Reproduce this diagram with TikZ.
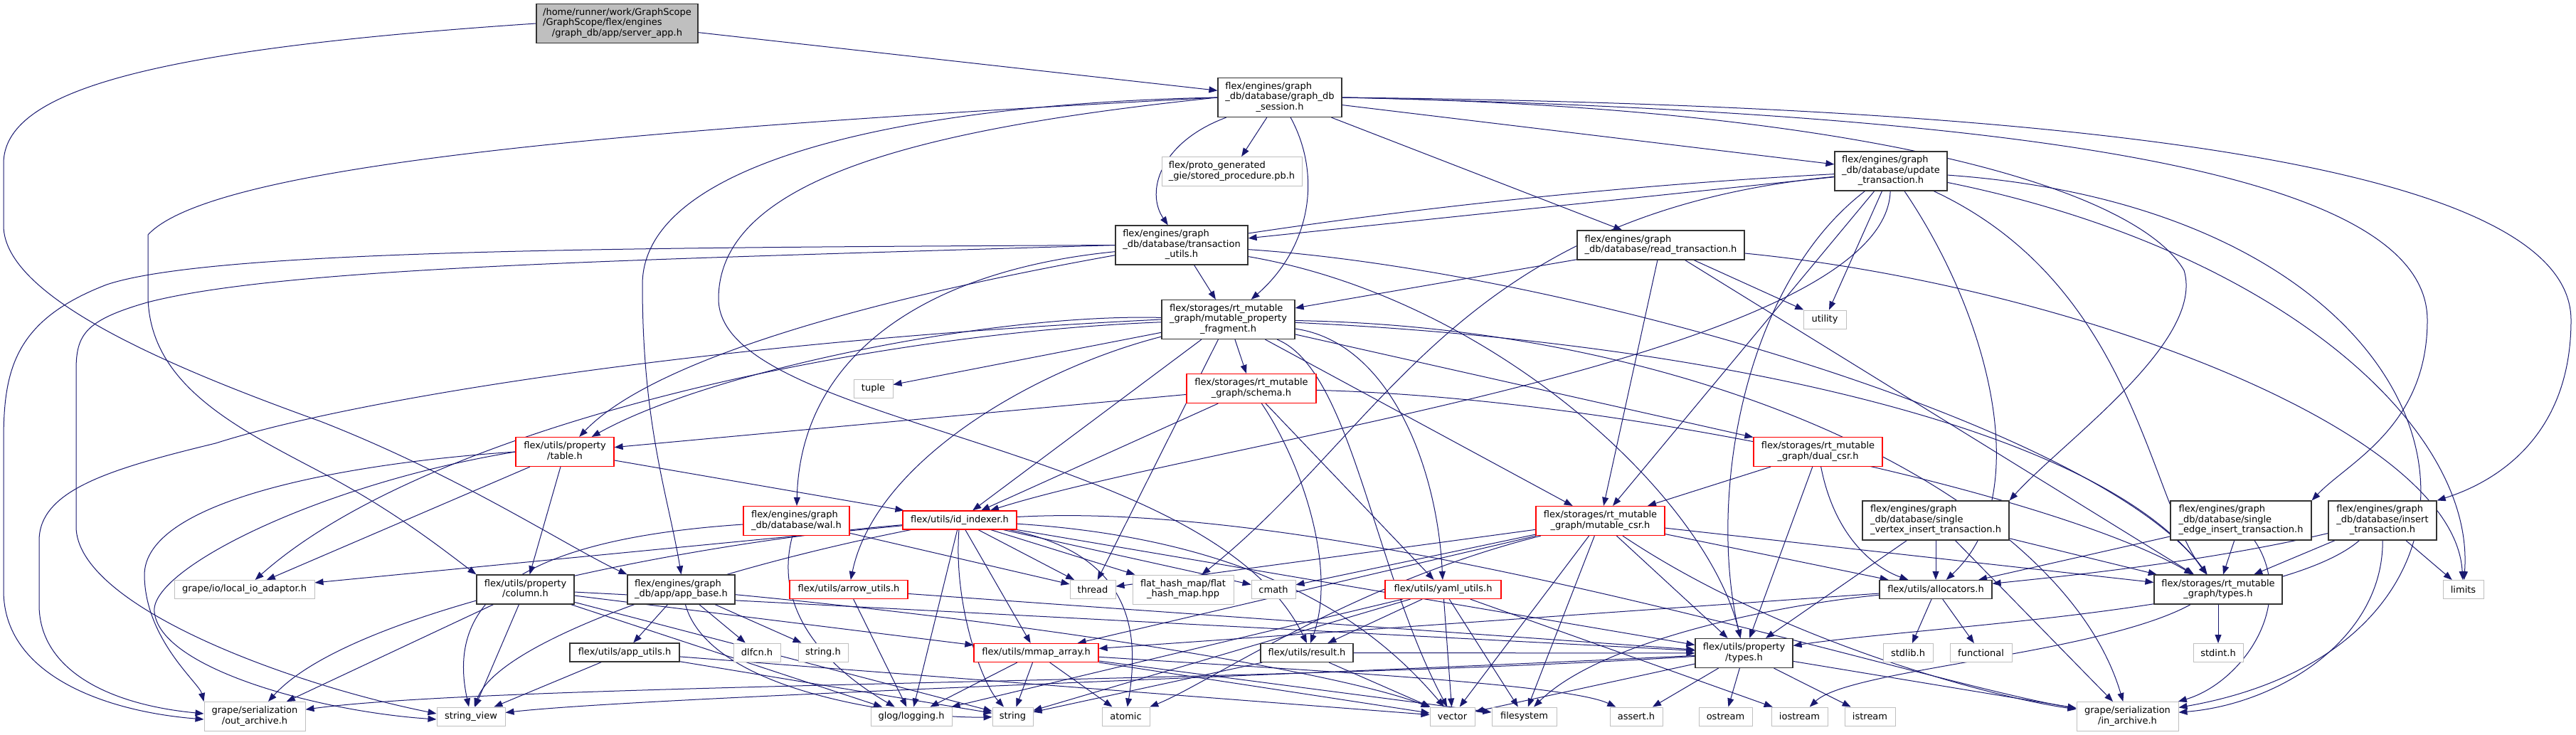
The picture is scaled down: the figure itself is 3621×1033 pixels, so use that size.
\documentclass[tikz,border=0pt]{standalone}
\usepackage{fontspec}
\setmainfont{DejaVu Sans}
\usetikzlibrary{arrows.meta}
\pgfdeclarelayer{bg}
\pgfsetlayers{bg,main}
\definecolor{edgeblue}{HTML}{191970}
\definecolor{sysgray}{HTML}{BFBFBF}
\newcommand{\dxfont}{\fontsize{13}{14.5}\selectfont}
% left-aligned lines, last one centred
\newcommand{\twol}[2]{\begin{tabular}{@{}l@{}}#1\\\multicolumn{1}{@{}c@{}}{#2}\end{tabular}}
\newcommand{\threel}[3]{\begin{tabular}{@{}l@{}}#1\\#2\\\multicolumn{1}{@{}c@{}}{#3}\end{tabular}}

\begin{document}
\begin{tikzpicture}[
  x=1pt, y=-1pt,
  hfile/.style={draw=black!80, fill=white, line width=1.2pt, inner sep=0pt, font=\dxfont},
  redfile/.style={hfile, draw=red},
  sysfile/.style={hfile, draw=sysgray, line width=1pt},
  srcfile/.style={hfile, fill=sysgray},
  one/.style={minimum height=26},
  two/.style={minimum height=41},
  three/.style={minimum height=55},
  dep/.style={color=edgeblue, line width=1pt, -{Triangle[length=12pt,width=9pt]}}
]
\useasboundingbox (0,0) rectangle (3621,1033);

% --- Top rows ---
\node[srcfile, three, minimum width=227] (root) at (867.5,33) {\threel{/home/runner/work/GraphScope}{/GraphScope/flex/engines}{/graph\_db/app/server\_app.h}};
\node[hfile, three, minimum width=174] (sess) at (1799,137) {\threel{flex/engines/graph}{\_db/database/graph\_db}{\_session.h}};
\node[sysfile, two, minimum width=197] (sproc) at (1731.5,241) {\twol{flex/proto\_generated}{\_gie/stored\_procedure.pb.h}};
\node[hfile, three, minimum width=158] (utxn) at (2658,240.5) {\threel{flex/engines/graph}{\_db/database/update}{\_transaction.h}};
\node[hfile, three, minimum width=186] (tutil) at (1661,344.5) {\threel{flex/engines/graph}{\_db/database/transaction}{\_utils.h}};
\node[hfile, two, minimum width=235] (rtxn) at (2334.5,344.5) {\twol{flex/engines/graph}{\_db/database/read\_transaction.h}};
\node[hfile, three, minimum width=187] (mpf) at (1726.5,449) {\threel{flex/storages/rt\_mutable}{\_graph/mutable\_property}{\_fragment.h}};
\node[sysfile, one, minimum width=60] (utility) at (2565,449) {utility};
\node[sysfile, one, minimum width=55] (tuple) at (1227.5,546) {tuple};
\node[redfile, two, minimum width=182] (schema) at (1759,546) {\twol{flex/storages/rt\_mutable}{\_graph/schema.h}};
\node[redfile, two, minimum width=138] (table) at (794,635) {\twol{flex/utils/property}{/table.h}};
\node[redfile, two, minimum width=181] (dualcsr) at (2555.5,635) {\twol{flex/storages/rt\_mutable}{\_graph/dual\_csr.h}};

% --- Middle rows ---
\node[redfile, two, minimum width=149] (wal) at (1119.5,732) {\twol{flex/engines/graph}{\_db/database/wal.h}};
\node[redfile, one, minimum width=160] (idx) at (1349,731) {flex/utils/id\_indexer.h};
\node[redfile, two, minimum width=181] (mcsr) at (2249.5,732) {\twol{flex/storages/rt\_mutable}{\_graph/mutable\_csr.h}};
\node[hfile, three, minimum width=206] (svins) at (2721,731.5) {\threel{flex/engines/graph}{\_db/database/single}{\_vertex\_insert\_transaction.h}};
\node[hfile, three, minimum width=198] (seins) at (3150,731.5) {\threel{flex/engines/graph}{\_db/database/single}{\_edge\_insert\_transaction.h}};
\node[hfile, three, minimum width=152] (itxn) at (3349,731.5) {\threel{flex/engines/graph}{\_db/database/insert}{\_transaction.h}};
\node[sysfile, one, minimum width=197] (ioad) at (343.5,828.5) {grape/io/local\_io\_adaptor.h};
\node[hfile, two, minimum width=137] (column) at (738.5,828.5) {\twol{flex/utils/property}{/column.h}};
\node[hfile, two, minimum width=151] (appbase) at (957.5,828.5) {\twol{flex/engines/graph}{\_db/app/app\_base.h}};
\node[redfile, one, minimum width=166] (arrow) at (1193,828.5) {flex/utils/arrow\_utils.h};
\node[sysfile, one, minimum width=64] (thread) at (1536,828.5) {thread};
\node[sysfile, two, minimum width=142] (fhm) at (1663,828.5) {\twol{flat\_hash\_map/flat}{\_hash\_map.hpp}};
\node[sysfile, one, minimum width=62] (cmath) at (1790,828.5) {cmath};
\node[redfile, one, minimum width=163] (yaml) at (2028.5,828.5) {flex/utils/yaml\_utils.h};
\node[hfile, one, minimum width=158] (alloc) at (2721,828.5) {flex/utils/allocators.h};
\node[hfile, two, minimum width=180] (rtypes) at (3118,828.5) {\twol{flex/storages/rt\_mutable}{\_graph/types.h}};
\node[sysfile, one, minimum width=57] (limits) at (3462.5,828.5) {limits};
\node[hfile, one, minimum width=154] (apputils) at (878,917) {flex/utils/app\_utils.h};
\node[sysfile, one, minimum width=66] (dlfcn) at (1064,917) {dlfcn.h};
\node[sysfile, one, minimum width=70] (stringh) at (1157,917) {string.h};
\node[redfile, one, minimum width=175] (mmap) at (1456.5,917.5) {flex/utils/mmap\_array.h};
\node[hfile, one, minimum width=130] (result) at (1837,917.5) {flex/utils/result.h};
\node[hfile, two, minimum width=137] (ptypes) at (2451.5,918) {\twol{flex/utils/property}{/types.h}};
\node[sysfile, one, minimum width=70] (stdlib) at (2682,917.5) {stdlib.h};
\node[sysfile, one, minimum width=87] (functional) at (2784.5,917.5) {functional};
\node[sysfile, one, minimum width=70] (stdint) at (3118,917.5) {stdint.h};

% --- Bottom row ---
\node[sysfile, two, minimum width=142] (oarch) at (358,1007) {\twol{grape/serialization}{/out\_archive.h}};
\node[sysfile, one, minimum width=96] (sview) at (662,1007) {string\_view};
\node[sysfile, one, minimum width=114] (glog) at (1281,1007) {glog/logging.h};
\node[sysfile, one, minimum width=57] (string) at (1423.5,1007) {string};
\node[sysfile, one, minimum width=67] (atomic) at (1582.5,1007) {atomic};
\node[sysfile, one, minimum width=63] (vector) at (2041.5,1007) {vector};
\node[sysfile, one, minimum width=91] (fsys) at (2142.5,1007) {filesystem};
\node[sysfile, one, minimum width=74] (asrt) at (2300,1007) {assert.h};
\node[sysfile, one, minimum width=75] (ostream) at (2425.5,1007) {ostream};
\node[sysfile, one, minimum width=79] (iostream) at (2529.5,1007) {iostream};
\node[sysfile, one, minimum width=71] (istream) at (2628.5,1007) {istream};
\node[sysfile, two, minimum width=143] (iarch) at (2990.5,1007) {\twol{grape/serialization}{/in\_archive.h}};

\begin{pgfonlayer}{bg}
\fill[white] (0,0) rectangle (3621,1033);

% --- server_app.h ---
\draw[dep] (root) -- (sess);
\draw[dep] (root.west) .. controls (200,70) and (5,130) .. (5,230) -- (5,317) .. controls (5,420) and (250,520) .. (450,592) .. controls (650,670) and (800,770) .. (appbase.north west);

% --- graph_db_session.h ---
\path[dep] (sess) edge (sproc) edge (rtxn) edge (utxn);
\draw[dep] (sess) .. controls (1630,200) and (1610,270) .. (tutil);
\draw[dep] (sess) .. controls (1860,250) and (1840,350) .. (mpf);
\draw[dep] (sess.east) .. controls (2600,150) and (3000,260) .. (3070,380) .. controls (3100,480) and (2900,620) .. (svins.north east);
\draw[dep] (sess.east) .. controls (2900,160) and (3412,250) .. (3412,450) .. controls (3412,600) and (3300,650) .. (seins.north east);
\draw[dep] (sess.east) .. controls (3100,150) and (3614,260) .. (3614,450) .. controls (3614,620) and (3500,680) .. (itxn.north east);
\draw[dep] (sess.west) .. controls (1300,145) and (903,220) .. (903,400) .. controls (903,600) and (940,700) .. (appbase.north);
\draw[dep] (sess.west) .. controls (900,180) and (300,230) .. (208,330) -- (208,417) .. controls (210,540) and (330,600) .. (450,663) .. controls (550,715) and (620,770) .. (column.north west);
\draw[dep] (sess.west) .. controls (1300,180) and (1010,250) .. (1010,420) .. controls (1010,600) and (1700,620) .. (result.north);

% --- transaction_utils.h ---
\path[dep] (tutil) edge (mpf);
\draw[dep] (tutil) .. controls (1300,380) and (1125,500) .. (wal);
\draw[dep] (tutil.west) .. controls (900,348) and (300,350) .. (150,400) .. controls (20,450) and (5,520) .. (5,620) -- (5,830) .. controls (5,950) and (150,1000) .. ([yshift=-4pt]oarch.west);
\draw[dep] (tutil.west) .. controls (900,365) and (400,375) .. (207,425) .. controls (120,450) and (107,470) .. (107,520) -- (107,740) .. controls (107,850) and (400,960) .. ([yshift=4pt]sview.west);
\draw[dep] (tutil) .. controls (2200,380) and (2950,600) .. (rtypes);
\draw[dep] (tutil) .. controls (2100,420) and (2400,700) .. (ptypes);

% --- read_transaction.h ---
\path[dep] (rtxn) edge (mpf) edge (mcsr) edge (utility) edge (rtypes);
\draw[dep] (rtxn) .. controls (2900,400) and (3450,600) .. (limits);

% --- update_transaction.h ---
\path[dep] (utxn) edge (tutil) edge (utility) edge (mcsr);
\draw[dep] (utxn) .. controls (1900,280) and (1000,420) .. (table);
\draw[dep] (utxn) .. controls (2050,300) and (1950,600) .. (fhm);
\draw[dep] (utxn) .. controls (2650,500) and (1700,620) .. (idx);
\draw[dep] (utxn) .. controls (2800,450) and (2860,700) .. (alloc);
\draw[dep] (utxn) .. controls (2450,400) and (2400,700) .. (ptypes);
\draw[dep] (utxn) .. controls (3000,400) and (3020,700) .. (rtypes);
\draw[dep] (utxn) .. controls (3200,350) and (3480,600) .. (limits);
\draw[dep] (utxn) .. controls (3500,300) and (3600,900) .. (iarch);

% --- mutable_property_fragment.h ---
\path[dep] (mpf) edge (tuple) edge (schema) edge (dualcsr) edge (mcsr) edge (idx) edge (thread);
\draw[dep] (mpf) .. controls (2400,480) and (2950,600) .. (rtypes);
\draw[dep] (mpf) .. controls (1450,520) and (1230,650) .. (arrow);
\draw[dep] (mpf) .. controls (1400,440) and (1000,520) .. (table);
\draw[dep] (mpf) .. controls (1200,470) and (600,600) .. (ioad);
\draw[dep] (mpf.west) .. controls (1000,480) and (500,560) .. (303,623) .. controls (150,660) and (55,690) .. (55,760) -- (55,850) .. controls (55,940) and (150,990) .. ([yshift=4pt]oarch.west);
\draw[dep] (mpf) .. controls (2400,460) and (2900,700) .. (iarch);
\draw[dep] (mpf) .. controls (1900,520) and (1930,800) .. (vector);
\draw[dep] (mpf) .. controls (1950,480) and (2020,650) .. (yaml);

% --- schema.h, dual_csr.h ---
\path[dep] (schema) edge (table) edge (idx) edge (yaml);
\draw[dep] (schema) .. controls (1830,650) and (1880,800) .. (result);
\draw[dep] (schema) .. controls (2300,560) and (2900,700) .. (rtypes);
\path[dep] (dualcsr) edge (mcsr) edge (ptypes);
\draw[dep] (dualcsr) .. controls (2580,760) and (2640,800) .. (alloc);

% --- table.h, wal.h, column.h ---
\path[dep] (table) edge (column) edge (idx) edge (ioad);
\draw[dep] (table.west) .. controls (500,650) and (200,700) .. (203,810) .. controls (205,900) and (280,960) .. (oarch.north west);
\draw[dep] (table.west) .. controls (450,680) and (210,800) .. (217,860) .. controls (225,940) and (450,1000) .. ([yshift=-4pt]sview.west);
\path[dep] (wal) edge (thread);
\draw[dep] (wal) .. controls (1080,880) and (1200,960) .. (glog);
\draw[dep] (wal) .. controls (700,760) and (630,860) .. (sview);
\path[dep] (column) edge (oarch) edge (sview) edge (mmap) edge (ptypes) edge (glog) edge (string);

% --- app_base.h, app_utils.h, arrow_utils.h ---
\path[dep] (appbase) edge (apputils) edge (dlfcn) edge (stringh);
\draw[dep] (appbase) .. controls (1000,980) and (1300,1010) .. (string);
\draw[dep] (appbase) .. controls (1500,880) and (1900,950) .. (vector);
\path[dep] (apputils) edge (sview) edge (string) edge (vector);
\path[dep] (arrow) edge (glog) edge (ptypes);

% --- id_indexer.h ---
\path[dep] (idx) edge (ioad) edge (thread) edge (fhm) edge (cmath) edge (mmap) edge (glog) edge (ptypes);
\draw[dep] (idx) .. controls (1000,760) and (500,850) .. (oarch);
\draw[dep] (idx) .. controls (1000,800) and (700,900) .. (sview);
\draw[dep] (idx) .. controls (1600,780) and (1600,900) .. (atomic);
\draw[dep] (idx) .. controls (1340,850) and (1380,960) .. (string);
\draw[dep] (idx) .. controls (1800,760) and (1950,900) .. (vector);
\draw[dep] (idx) .. controls (1900,700) and (2700,960) .. (iarch);

% --- yaml_utils.h, mutable_csr.h ---
\path[dep] (yaml) edge (glog) edge (string) edge (result) edge (vector) edge (fsys) edge (iostream);
\path[dep] (mcsr) edge (thread) edge (cmath) edge (mmap) edge (vector) edge (fsys) edge (alloc) edge (rtypes) edge (ptypes);
\draw[dep] (mcsr) .. controls (2500,900) and (2800,980) .. (iarch);
\draw[dep] (mcsr) .. controls (1900,820) and (1700,960) .. (atomic);

% --- mmap_array.h, result.h, property/types.h ---
\path[dep] (mmap) edge (glog) edge (string) edge (atomic) edge (vector) edge (fsys);
\draw[dep] (mmap) .. controls (1800,940) and (2200,960) .. (asrt);
\path[dep] (result) edge (string) edge (vector) edge (ptypes);
\path[dep] (ptypes) edge (asrt) edge (ostream) edge (istream) edge (iarch) edge (vector);
\draw[dep] (ptypes) .. controls (1800,960) and (700,960) .. (oarch);
\draw[dep] (ptypes) .. controls (1800,950) and (900,980) .. (sview);

% --- allocators.h, rt_mutable_graph/types.h ---
\path[dep] (alloc) edge (stdlib) edge (functional) edge (mmap);
\draw[dep] (alloc) .. controls (2500,850) and (2250,900) .. (fsys);
\path[dep] (rtypes) edge (stdint);
\draw[dep] (rtypes) .. controls (2950,920) and (2600,940) .. (iostream);

% --- insert transactions ---
\path[dep] (svins) edge (alloc) edge (rtypes) edge (ptypes) edge (iarch);
\path[dep] (seins) edge (alloc) edge (rtypes);
\draw[dep] (seins) .. controls (3230,850) and (3150,960) .. (iarch);
\path[dep] (itxn) edge (rtypes) edge (limits);
\draw[dep] (itxn) .. controls (3100,790) and (2900,810) .. (alloc);
\draw[dep] (itxn) .. controls (3350,900) and (3200,990) .. (iarch);
\draw[dep] (itxn) .. controls (3200,860) and (2700,880) .. (ptypes);
\end{pgfonlayer}
\end{tikzpicture}
\end{document}
